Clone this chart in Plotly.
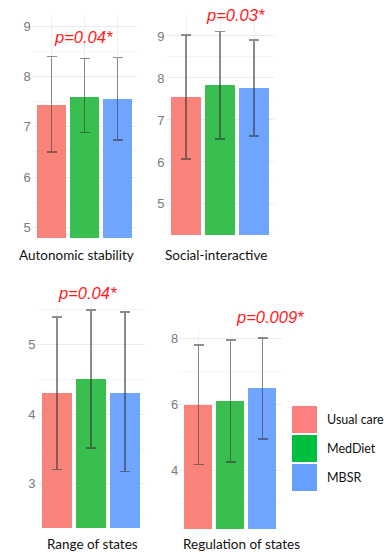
import plotly.graph_objects as go

W, H = 386, 552

groups = ["Usual care", "MedDiet", "MBSR"]
outcomes = ["Autonomic stability", "Social-interactive", "Range of states", "Regulation of states"]
p_values = ["p=0.04*", "p=0.03*", "p=0.04*", "p=0.009*"]

means_autonomic = [7.44, 7.60, 7.56]
upper_autonomic = [8.39, 8.35, 8.37]
lower_autonomic = [6.50, 6.88, 6.74]

means_social = [7.55, 7.83, 7.76]
upper_social = [9.02, 9.10, 8.90]
lower_social = [6.07, 6.55, 6.62]

means_range = [4.30, 4.50, 4.30]
upper_range = [5.40, 5.50, 5.47]
lower_range = [3.20, 3.51, 3.17]

means_regulation = [6.00, 6.12, 6.50]
upper_regulation = [7.82, 7.97, 8.03]
lower_regulation = [4.20, 4.27, 4.97]

tick_autonomic = [5, 6, 7, 8, 9]
tick_social = [5, 6, 7, 8, 9]
tick_range = [3, 4, 5]
tick_regulation = [4, 6, 8]

bar_colors = ["#F8837B", "#39BE50", "#70A5FF"]
legend_colors = ["#FF7F7F", "#00BF3F", "#66A0FF"]

panels = [
    dict(means=means_autonomic, up=upper_autonomic, lo=lower_autonomic, ticks=tick_autonomic,
         xpx=(31.7, 137.3), ypx=(15, 238), yr=(4.79, 9.22), minor=0.5,
         ppos=(83, 37), lab=(76, 255)),
    dict(means=means_social, up=upper_social, lo=lower_social, ticks=tick_social,
         xpx=(165.6, 274.4), ypx=(15, 235), yr=(4.26, 9.5), minor=0.5,
         ppos=(235, 15), lab=(216, 255)),
    dict(means=means_range, up=upper_range, lo=lower_range, ticks=tick_range,
         xpx=(36.6, 145.4), ypx=(305, 528), yr=(2.36, 5.57), minor=0.5,
         ppos=(87, 293), lab=(92, 544)),
    dict(means=means_regulation, up=upper_regulation, lo=lower_regulation, ticks=tick_regulation,
         xpx=(179.3, 281.7), ypx=(330, 529), yr=(2.24, 8.27), minor=1,
         ppos=(270, 317), lab=(241, 544)),
]

fig = go.Figure()
annotations = []
shapes = []

for i, p in enumerate(panels):
    k = "" if i == 0 else str(i + 1)
    xa, ya = "x" + k, "y" + k
    for j, g in enumerate(groups):
        fig.add_trace(go.Bar(
            x=[j], y=[p["means"][j]], xaxis=xa, yaxis=ya,
            width=0.88, marker=dict(color=bar_colors[j], line=dict(width=0)),
            error_y=dict(type="data", symmetric=False,
                         array=[p["up"][j] - p["means"][j]],
                         arrayminus=[p["means"][j] - p["lo"][j]],
                         color="rgba(50,50,50,0.55)", thickness=1.4, width=5),
            showlegend=False, name=g, hoverinfo="skip",
        ))
    x0, x1 = p["xpx"]
    y0, y1 = p["ypx"]
    fig.layout["xaxis" + k] = dict(
        domain=[x0 / W, x1 / W], range=[-0.6, 2.6], anchor=ya,
        showticklabels=False, showgrid=True, gridcolor="#f0f0f0", gridwidth=1,
        tickvals=[0, 1, 2], zeroline=False, showline=False, ticks="",
    )
    fig.layout["yaxis" + k] = dict(
        domain=[1 - y1 / H, 1 - y0 / H], range=list(p["yr"]), anchor=xa,
        tickvals=p["ticks"], showgrid=True, gridcolor="#ebebeb", gridwidth=1,
        minor=dict(dtick=p["minor"], showgrid=True, gridcolor="#f5f5f5"),
        zeroline=False, showline=False, ticks="",
        tickfont=dict(family="Liberation Sans, Arial", size=13, color="#7a7a7a"),
    )
    annotations.append(dict(
        x=p["ppos"][0] / W, y=1 - p["ppos"][1] / H, xref="paper", yref="paper",
        text="<i>" + p_values[i] + "</i>", showarrow=False,
        font=dict(family="Liberation Sans, Arial", size=16.5, color="#FF1A1A"),
        xanchor="center", yanchor="middle",
    ))
    annotations.append(dict(
        x=p["lab"][0] / W, y=1 - p["lab"][1] / H, xref="paper", yref="paper",
        text=outcomes[i], showarrow=False,
        font=dict(family="Lato, Open Sans", size=13.5, color="#111111"),
        xanchor="center", yanchor="middle",
    ))

# legend drawn manually
leg_y = [406, 435, 464]
for j, g in enumerate(groups):
    shapes.append(dict(type="rect", xref="paper", yref="paper",
                       x0=292 / W, x1=317 / W,
                       y0=1 - (leg_y[j] + 27) / H, y1=1 - leg_y[j] / H,
                       fillcolor=legend_colors[j], line=dict(width=0)))
    annotations.append(dict(
        x=325 / W, y=1 - (leg_y[j] + 13.5) / H, xref="paper", yref="paper",
        text=g, showarrow=False, xanchor="left", yanchor="middle",
        font=dict(family="Lato, Open Sans", size=12.5, color="#111111"),
    ))

fig.update_layout(
    width=W, height=H, margin=dict(l=0, r=0, t=0, b=0),
    paper_bgcolor="white", plot_bgcolor="white",
    annotations=annotations, shapes=shapes, bargap=0,
)

fig.write_html("out.html", config={"displayModeBar": False},
               post_script="document.body.style.margin='0';document.body.style.overflow='hidden';")
